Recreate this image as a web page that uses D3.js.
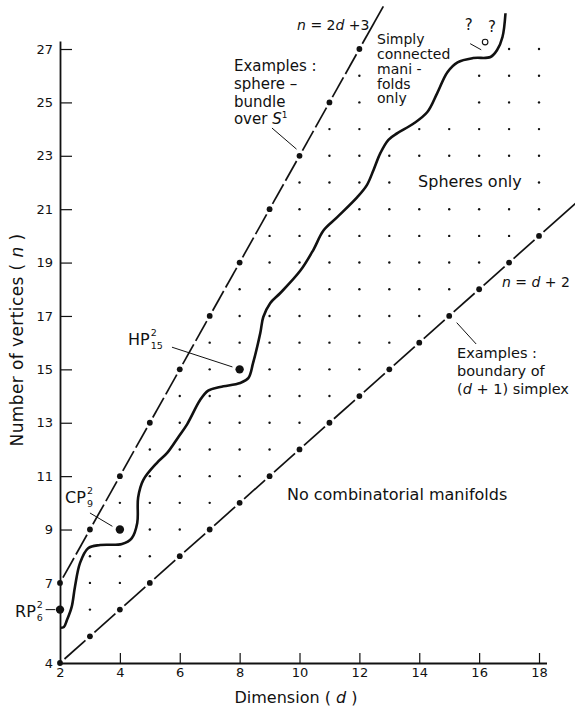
<!DOCTYPE html>
<html>
<head>
<meta charset="utf-8">
<script src="https://cdn.jsdelivr.net/npm/d3@7/dist/d3.min.js"></script>
<style>
  body { margin: 0; background: #fff; }
  svg { display: block; }
  text { font-family: "DejaVu Sans", sans-serif; fill: #111; }
</style>
</head>
<body>
<div id="chart"></div>
<script>
var width = 575, height = 709;

// axis ticks
var xTicks = [2, 4, 6, 8, 10, 12, 14, 16, 18];
var yTicks = [4, 7, 9, 11, 13, 15, 17, 19, 21, 23, 25, 27];

// the wavy boundary curve (dimension d, vertices n)
var curveD = [2.0, 2.13, 2.23, 2.39, 2.5, 2.67, 2.94, 3.34, 4.07, 4.4, 4.58, 4.61, 4.78, 5.24, 5.58, 5.95,
              6.25, 6.68, 6.95, 7.35, 8.02, 8.29, 8.45, 8.69, 8.79, 9.02, 9.36, 10.03, 10.46, 10.8, 11.26,
              11.93, 12.25, 12.47, 12.7, 12.97, 13.27, 13.8, 14.27, 14.6, 14.94, 15.28, 15.8, 16.38, 16.6,
              16.78, 16.88];
var curveN = [5.32, 5.35, 5.6, 6.1, 6.86, 7.75, 8.3, 8.42, 8.46, 8.68, 9.24, 10.2, 10.85, 11.5, 11.87, 12.46,
              12.95, 13.85, 14.2, 14.34, 14.49, 14.67, 15.24, 16.36, 16.96, 17.48, 17.86, 18.7, 19.47, 20.2, 20.7,
              21.45, 21.9, 22.46, 23.1, 23.6, 23.85, 24.2, 24.64, 25.35, 26.13, 26.5, 26.66, 26.7, 26.96,
              27.45, 28.34];

// the two bounding lines: n = 2d + 3 (dots d = 2..12) and n = d + 2 (dots d = 2..18)
var upperDots = d3.range(2, 13);
var lowerDots = d3.range(2, 19);
var upperEnd = 12.8, lowerEnd = 19.3;

// known examples
var specialNames = ["RP", "CP", "HP"];
var specialD = [2, 4, 8];
var specialN = [6, 9, 15];

// grid cells left blank near the top of the original
var skipCells = [[15, 27], [16, 27]];
var gridMaxN = 27, gridMaxD = 18;

var svg = d3.select("#chart").append("svg")
    .attr("width", width)
    .attr("height", height);

var x = d3.scaleLinear().domain([2, 18.25]).range([60, 546.5]);
var y = d3.scaleLinear().domain([4, 27.3]).range([663, 41]);

var dotLayer = svg.append("g");
var lineLayer = svg.append("g");
var labelLayer = svg.append("g");

// axes
var xAxis = d3.axisBottom(x).tickValues(xTicks).tickSize(-10).tickSizeOuter(0).tickPadding(5)
    .tickFormat(d3.format("d"));
svg.append("g")
    .attr("transform", "translate(0," + y(4) + ")")
    .call(xAxis)
    .attr("font-family", "DejaVu Sans, sans-serif")
    .attr("font-size", 13)
    .call(function(g) {
        g.select(".domain").attr("stroke", "#111").attr("stroke-width", 1.8);
        g.selectAll(".tick line").attr("stroke", "#111").attr("stroke-width", 1.2)
            .filter(function(d) { return d === 2; }).remove();
        g.selectAll(".tick text").attr("fill", "#111");
    });

var yAxis = d3.axisLeft(y).tickValues(yTicks).tickSize(-12).tickSizeOuter(0).tickPadding(7);
svg.append("g")
    .attr("transform", "translate(" + x(2) + ",0)")
    .call(yAxis)
    .attr("font-family", "DejaVu Sans, sans-serif")
    .attr("font-size", 13)
    .call(function(g) {
        g.select(".domain").attr("stroke", "#111").attr("stroke-width", 1.8);
        g.selectAll(".tick line").attr("stroke", "#111").attr("stroke-width", 1.2)
            .filter(function(d) { return d < 9; }).remove();
        g.selectAll(".tick text").attr("fill", "#111");
    });

// axis titles
svg.append("text")
    .attr("x", 296).attr("y", 703)
    .attr("text-anchor", "middle")
    .attr("font-size", 16)
    .call(function(t) {
        t.append("tspan").text("Dimension  ( ");
        t.append("tspan").attr("font-style", "italic").text("d");
        t.append("tspan").text(" )");
    });

svg.append("text")
    .attr("transform", "translate(23,340) rotate(-90)")
    .attr("text-anchor", "middle")
    .attr("font-size", 17)
    .attr("letter-spacing", 0.4)
    .call(function(t) {
        t.append("tspan").text("Number of vertices  ( ");
        t.append("tspan").attr("font-style", "italic").text("n");
        t.append("tspan").text(" )");
    });

// dashed lines broken at each dot
function dashSegments(f, dots, dEnd, gap, mid) {
    var stops = dots.concat([dEnd]);
    var segs = [];
    for (var i = 0; i < stops.length - 1; i++) {
        var a = stops[i], b = stops[i + 1];
        var x0 = x(a), y0 = y(f(a)), x1 = x(b), y1 = y(f(b));
        var L = Math.hypot(x1 - x0, y1 - y0);
        var ux = (x1 - x0) / L, uy = (y1 - y0) / L;
        var s = gap, e = L - (dots.indexOf(b) >= 0 ? gap : 0);
        var pieces = (e - s > 45 && mid > 0) ? [[s, (s + e) / 2 - mid / 2], [(s + e) / 2 + mid / 2, e]] : [[s, e]];
        pieces.forEach(function(p) {
            segs.push({x1: x0 + ux * p[0], y1: y0 + uy * p[0], x2: x0 + ux * p[1], y2: y0 + uy * p[1]});
        });
    }
    return segs;
}

var upperSegs = dashSegments(function(d) { return 2 * d + 3; }, upperDots, upperEnd, 6, 4);
var lowerSegs = dashSegments(function(d) { return d + 2; }, lowerDots, lowerEnd, 6, 0);

lineLayer.selectAll("line.dash")
    .data(upperSegs.concat(lowerSegs))
    .join("line")
    .attr("class", "dash")
    .attr("x1", function(d) { return d.x1; })
    .attr("y1", function(d) { return d.y1; })
    .attr("x2", function(d) { return d.x2; })
    .attr("y2", function(d) { return d.y2; })
    .attr("stroke", "#111")
    .attr("stroke-width", 1.7);

// line dots
var lineDots = upperDots.map(function(d) { return [d, 2 * d + 3]; })
    .concat(lowerDots.map(function(d) { return [d, d + 2]; }));
lineLayer.selectAll("circle.ld")
    .data(lineDots)
    .join("circle")
    .attr("class", "ld")
    .attr("cx", function(d) { return x(d[0]); })
    .attr("cy", function(d) { return y(d[1]); })
    .attr("r", 2.9)
    .attr("fill", "#111");

// special examples
lineLayer.selectAll("circle.sp")
    .data(specialD)
    .join("circle")
    .attr("class", "sp")
    .attr("cx", function(d) { return x(d); })
    .attr("cy", function(d, i) { return y(specialN[i]); })
    .attr("r", 4.2)
    .attr("fill", "#111");

// boundary curve
var curvePts = curveD.map(function(d, i) { return [d, curveN[i]]; });
lineLayer.append("path")
    .datum(curvePts)
    .attr("fill", "none")
    .attr("stroke", "#111")
    .attr("stroke-width", 2.6)
    .attr("stroke-linejoin", "round")
    .attr("d", d3.line()
        .x(function(d) { return x(d[0]); })
        .y(function(d) { return y(d[1]); })
        .curve(d3.curveCatmullRom.alpha(0.5)));

// labels: "_" toggles italic, "^" starts a superscript
function addLabel(d, n, size, lineGap, lines) {
    var t = labelLayer.append("text")
        .attr("x", x(d)).attr("y", y(n))
        .attr("font-size", size);
    lines.forEach(function(line, li) {
        var first = true;
        line.split("_").forEach(function(p, pi) {
            if (p === "") return;
            var sup = p.split("^");
            var s = t.append("tspan").text(sup[0]);
            if (first) { s.attr("x", x(d)).attr("dy", li === 0 ? 0 : lineGap); first = false; }
            if (pi % 2 === 1) s.attr("font-style", "italic");
            if (sup.length > 1) {
                t.append("tspan").attr("dy", -6).attr("font-size", size * 0.6).text(sup[1]);
            }
        });
    });
    return t;
}

addLabel(9.92, 27.71, 14, 0, ["_n_ = 2_d_ +3"]);
addLabel(12.59, 27.18, 14, 14.8, ["Simply", "connected", "mani -", "folds", "only"]);
addLabel(7.81, 26.17, 15, 17.7, ["Examples :", "sphere –", "bundle", "over _S_^1"]);
addLabel(13.96, 21.83, 16, 0, ["Spheres only"]);
addLabel(16.76, 18.08, 14, 0, ["_n_ = _d_ + 2"]);
addLabel(15.26, 15.42, 14.5, 18, ["Examples :", "boundary of", "(_d_ + 1) simplex"]);
addLabel(9.58, 10.1, 16, 0, ["No combinatorial  manifolds"]);
addLabel(15.52, 27.7, 15, 0, ["?"]);
addLabel(16.3, 27.62, 15, 0, ["?"]);

// names of the special examples, with the stacked super/subscript
var specialLabelD = [0.5, 2.17, 4.27];
var specialLabelN = [5.72, 9.99, 15.91];
specialNames.forEach(function(name, i) {
    var t = labelLayer.append("text")
        .attr("x", x(specialLabelD[i])).attr("y", y(specialLabelN[i]))
        .attr("font-size", 16).text(name);
    var w = t.node().getComputedTextLength();
    var lx = x(specialLabelD[i]) + w + 1, ly = y(specialLabelN[i]);
    labelLayer.append("text").attr("x", lx).attr("y", ly - 9).attr("font-size", 9.5).text("2");
    labelLayer.append("text").attr("x", lx).attr("y", ly + 4).attr("font-size", 9.5).text(specialN[i]);
});

// pointer lines
var pointers = [
    [[9.08, 24.04], [9.9, 23.25]],
    [[5.74, 15.83], [7.76, 15.09]],
    [[3.0, 9.62], [3.75, 9.12]],
    [[1.52, 6.0], [1.84, 6.0]],
    [[15.25, 16.75], [15.9, 15.95]],
    [[15.7, 27.2], [16.07, 26.97]]
];
labelLayer.selectAll("line.ptr")
    .data(pointers)
    .join("line")
    .attr("class", "ptr")
    .attr("x1", function(d) { return x(d[0][0]); })
    .attr("y1", function(d) { return y(d[0][1]); })
    .attr("x2", function(d) { return x(d[1][0]); })
    .attr("y2", function(d) { return y(d[1][1]); })
    .attr("stroke", "#111")
    .attr("stroke-width", 1);
labelLayer.append("circle")
    .attr("cx", x(16.2)).attr("cy", y(27.26)).attr("r", 2.8)
    .attr("fill", "none").attr("stroke", "#111").attr("stroke-width", 1.1);

// lattice dots inside the wedge, skipping those hidden by text
var boxes = labelLayer.selectAll("text").nodes().map(function(n) { return n.getBBox(); });
var gridDots = [];
for (var d = 3; d <= gridMaxD; d++) {
    for (var n = d + 3; n <= Math.min(2 * d + 2, gridMaxN); n++) {
        var special = specialD.some(function(sd, i) { return sd === d && specialN[i] === n; });
        var skip = skipCells.some(function(c) { return c[0] === d && c[1] === n; });
        var px = x(d), py = y(n);
        var covered = boxes.some(function(b) {
            return px > b.x - 3 && px < b.x + b.width + 3 && py > b.y - 2 && py < b.y + b.height + 2;
        });
        if (!special && !skip && !covered) gridDots.push([d, n]);
    }
}
dotLayer.selectAll("circle")
    .data(gridDots)
    .join("circle")
    .attr("cx", function(d) { return x(d[0]); })
    .attr("cy", function(d) { return y(d[1]); })
    .attr("r", 1.2)
    .attr("fill", "#111");
</script>
</body>
</html>
